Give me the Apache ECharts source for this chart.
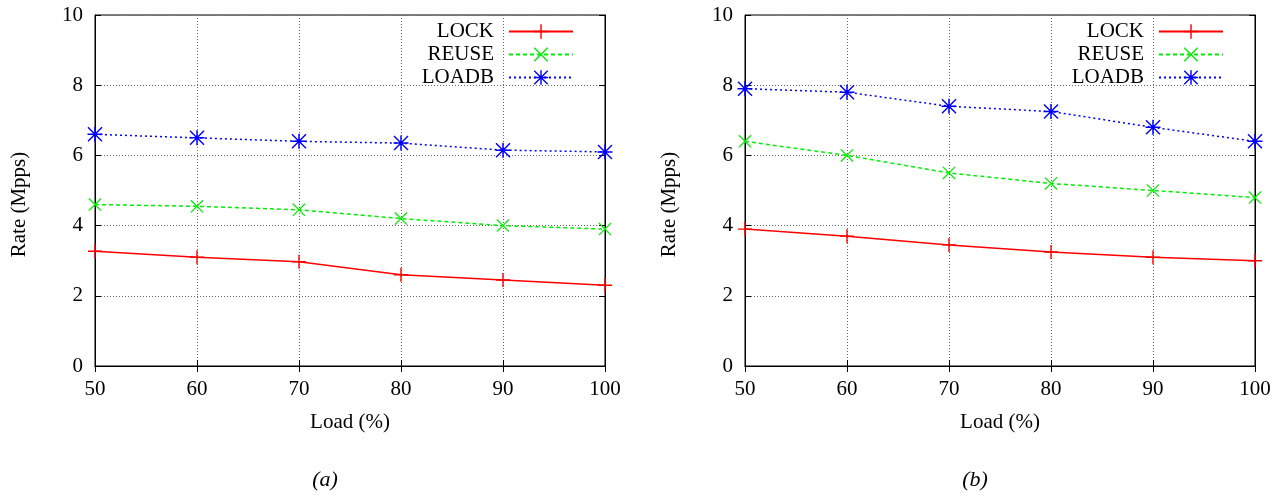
<!DOCTYPE html>
<html>
<head>
<meta charset="utf-8">
<script src="https://cdn.jsdelivr.net/npm/echarts@6/dist/echarts.min.js"></script>
<style>
html,body{margin:0;padding:0;background:#fff;}
#c{width:1280px;height:496px;}
</style>
</head>
<body>
<div id="c"></div>
<script>
const loads = [50, 60, 70, 80, 90, 100];
const seriesNames = ['LOCK', 'REUSE', 'LOADB'];
const lockA  = [3.27, 3.1, 2.97, 2.6, 2.45, 2.3];
const reuseA = [4.6, 4.55, 4.45, 4.2, 4.0, 3.9];
const loadbA = [6.6, 6.5, 6.4, 6.35, 6.15, 6.1];
const lockB  = [3.9, 3.7, 3.45, 3.25, 3.1, 3.0];
const reuseB = [6.4, 6.0, 5.5, 5.2, 5.0, 4.8];
const loadbB = [7.9, 7.8, 7.4, 7.25, 6.8, 6.4];
const yTicks = [0, 2, 4, 6, 8, 10];
const xTitle = 'Load (%)';
const yTitle = 'Rate (Mpps)';
const subTitles = ['(a)', '(b)'];

const FONT = 'Liberation Serif';
const PLUS = 'path://M-0.75,-7.5H0.75V7.5H-0.75Z M-7.5,-0.75H7.5V0.75H-7.5Z';
const CROSS = 'path://M-6.5,-7.5L7.5,6.5L6.5,7.5L-7.5,-6.5Z M6.5,-7.5L7.5,-6.5L-6.5,7.5L-7.5,6.5Z';
const STAR = 'path://M-0.75,-7.5H0.75V7.5H-0.75Z M-7.5,-0.75H7.5V0.75H-7.5Z M-6.5,-7.5L7.5,6.5L6.5,7.5L-7.5,-6.5Z M6.5,-7.5L7.5,-6.5L-6.5,7.5L-7.5,6.5Z';

const styles = [
  {color: '#ff0000', type: 'solid', symbol: PLUS, size: 14},
  {color: '#00ee00', type: [4, 3], symbol: CROSS, size: 13},
  {color: '#0000ff', type: [2, 3], symbol: STAR, size: 15}
];

const grids = [
  {left: 95, top: 15, width: 510, height: 351, show: true, borderColor: '#000', borderWidth: 1, backgroundColor: 'transparent'},
  {left: 745, top: 15, width: 510, height: 351, show: true, borderColor: '#000', borderWidth: 1, backgroundColor: 'transparent'}
];

const txt = {color: '#000', fontFamily: FONT, fontSize: 21};
const splitLine = {show: true, lineStyle: {color: '#666', type: [1, 2], width: 1}};

const xAxis = [], yAxis = [];
[0, 1].forEach(g => {
  xAxis.push({
    type: 'value', gridIndex: g, min: 50, max: 100, interval: 10,
    name: xTitle, nameLocation: 'middle', nameGap: 46, nameTextStyle: txt,
    axisLine: {show: true, lineStyle: {color: '#000', width: 1}},
    axisTick: {show: true, inside: true, length: 6, lineStyle: {color: '#000'}},
    axisLabel: Object.assign({margin: 13}, txt),
    splitLine: splitLine
  });
  xAxis.push({
    type: 'value', gridIndex: g, position: 'top', min: 50, max: 100, interval: 10,
    axisLine: {show: true, lineStyle: {color: '#000'}},
    axisTick: {show: true, inside: true, length: 6, lineStyle: {color: '#000'}},
    axisLabel: {show: false}, splitLine: {show: false}
  });
  yAxis.push({
    type: 'value', gridIndex: g, min: 0, max: 10, interval: 2,
    name: yTitle, nameLocation: 'middle', nameGap: 65,
    nameTextStyle: Object.assign({padding: [0, 28, 0, 0]}, txt),
    axisLine: {show: true, lineStyle: {color: '#000', width: 1}},
    axisTick: {show: true, inside: true, length: 6, lineStyle: {color: '#000'}},
    axisLabel: Object.assign({margin: 12, formatter: v => yTicks.includes(v) ? String(v) : ''}, txt),
    splitLine: splitLine
  });
  yAxis.push({
    type: 'value', gridIndex: g, position: 'right', min: 0, max: 10, interval: 2,
    axisLine: {show: true, lineStyle: {color: '#000'}},
    axisTick: {show: true, inside: true, length: 6, lineStyle: {color: '#000'}},
    axisLabel: {show: false}, splitLine: {show: false}
  });
});

const dataSets = [[lockA, reuseA, loadbA], [lockB, reuseB, loadbB]];
const series = [];
dataSets.forEach((sets, g) => {
  sets.forEach((vals, i) => {
    const s = styles[i];
    series.push({
      name: seriesNames[i], type: 'line',
      xAxisIndex: g * 2, yAxisIndex: g * 2,
      data: loads.map((x, k) => [x, vals[k]]),
      symbol: s.symbol, symbolSize: s.size,
      showAllSymbol: true,
      lineStyle: {color: s.color, width: 1.5, type: s.type},
      itemStyle: {color: s.color},
      emphasis: {disabled: true},
      animation: false
    });
  });
});

const legendCommon = {
  orient: 'vertical', align: 'right', top: 21, padding: 0,
  itemWidth: 64, itemHeight: 18, itemGap: 2,
  textStyle: Object.assign({padding: [0, 10, 0, 0]}, txt), selectedMode: false,
  data: seriesNames
};

const option = {
  animation: false,
  backgroundColor: '#fff',
  grid: grids,
  xAxis: xAxis,
  yAxis: yAxis,
  series: series,
  legend: [
    Object.assign({right: 706}, legendCommon),
    Object.assign({right: 56}, legendCommon)
  ],
  title: [
    {text: subTitles[0], left: 320, top: 464, textAlign: 'center',
     textStyle: {fontFamily: FONT, fontStyle: 'italic', fontWeight: 'normal', fontSize: 22, color: '#000'}},
    {text: subTitles[1], left: 970, top: 464, textAlign: 'center',
     textStyle: {fontFamily: FONT, fontStyle: 'italic', fontWeight: 'normal', fontSize: 22, color: '#000'}}
  ]
};

const chart = echarts.init(document.getElementById('c'), null, {renderer: 'canvas'});
chart.setOption(option);
</script>
</body>
</html>
